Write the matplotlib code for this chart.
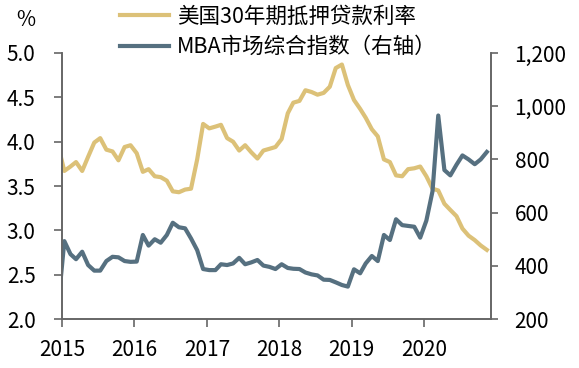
import numpy as np
import pandas as pd
import matplotlib
matplotlib.use('Agg')
import matplotlib.pyplot as plt
import matplotlib.dates as mdates
from matplotlib.ticker import FuncFormatter, MultipleLocator

plt.rcParams['font.family'] = ['Noto Sans CJK SC', 'DejaVu Sans']

# 月度数据：2014-12 至 2020-11
months = pd.date_range('2014-12-01', '2020-11-01', freq='MS') + pd.Timedelta(days=12)

mortgage_rate = [3.95,
                 3.67, 3.72, 3.77, 3.67, 3.83, 3.99, 4.04, 3.91, 3.89, 3.79, 3.94, 3.96,
                 3.87, 3.66, 3.69, 3.61, 3.60, 3.56, 3.44, 3.43, 3.46, 3.47, 3.80, 4.20,
                 4.15, 4.17, 4.19, 4.04, 4.00, 3.90, 3.96, 3.88, 3.81, 3.90, 3.92, 3.94,
                 4.03, 4.32, 4.44, 4.46, 4.58, 4.56, 4.53, 4.55, 4.62, 4.83, 4.87, 4.64,
                 4.47, 4.37, 4.27, 4.14, 4.06, 3.80, 3.77, 3.62, 3.61, 3.69, 3.70, 3.72,
                 3.61, 3.47, 3.45, 3.30, 3.23, 3.16, 3.02, 2.94, 2.89, 2.83, 2.78]

mba_index = [250,
             493, 444, 425, 453, 403, 382, 382, 418, 434, 432, 418, 415,
             416, 516, 476, 500, 487, 516, 562, 545, 541, 503, 459, 388,
             384, 384, 406, 403, 409, 430, 406, 413, 422, 401, 396, 388,
             406, 392, 389, 388, 375, 368, 364, 348, 347, 338, 328, 322,
             387, 372, 409, 437, 418, 516, 497, 575, 553, 550, 547, 506,
             570, 680, 965, 760, 740, 780, 815, 800, 782, 800, 828]

label_rate = '美国30年期抵押贷款利率'
label_mba = 'MBA市场综合指数（右轴）'
years = [2015, 2016, 2017, 2018, 2019, 2020]

c_rate = '#DCC178'
c_mba = '#567080'
c_axis = '#666666'

fig = plt.figure(figsize=(5.79, 3.68), dpi=100)
ax = fig.add_axes([0.107, 0.133, 0.741, 0.723])
ax2 = ax.twinx()

l1, = ax.plot(months, mortgage_rate, color=c_rate, lw=3, solid_joinstyle='round')
l2, = ax2.plot(months, mba_index, color=c_mba, lw=3, solid_joinstyle='round')

ax.set_xlim(pd.Timestamp('2015-01-01'), pd.Timestamp('2020-12-04'))
ax.set_ylim(2.0, 5.0)
ax2.set_ylim(200, 1200)
ax.yaxis.set_major_locator(MultipleLocator(0.5))
ax.yaxis.set_major_formatter(FuncFormatter(lambda v, p: '%.1f' % v))
ax2.yaxis.set_major_locator(MultipleLocator(200))
ax2.yaxis.set_major_formatter(FuncFormatter(lambda v, p: '{:,.0f}'.format(v)))

ax.set_xticks([pd.Timestamp('%d-01-01' % y) for y in years])
ax.set_xticklabels([str(y) for y in years])

for a in (ax, ax2):
    a.spines['top'].set_visible(False)
    for s in ('left', 'right', 'bottom'):
        a.spines[s].set_color(c_axis)
        a.spines[s].set_linewidth(1.2)
ax.tick_params(axis='y', direction='out', length=6, width=1.2, color=c_axis,
               labelsize=15, pad=13)
ax.tick_params(axis='x', direction='out', length=6, width=1.2, color=c_axis,
               labelsize=15, pad=8)
ax2.tick_params(axis='y', direction='out', length=5, width=1.2, color=c_axis,
                labelsize=15, pad=12)

fig.text(0.045, 0.945, '%', fontsize=15, ha='center', va='center')

fig.legend([l1, l2], [label_rate, label_mba], loc='upper left',
           bbox_to_anchor=(0.207, 0.984), frameon=False, fontsize=15.5,
           handlelength=2.3, handletextpad=0.35, labelspacing=0.38,
           borderpad=0, borderaxespad=0)

fig.savefig('out.png', dpi=100)
